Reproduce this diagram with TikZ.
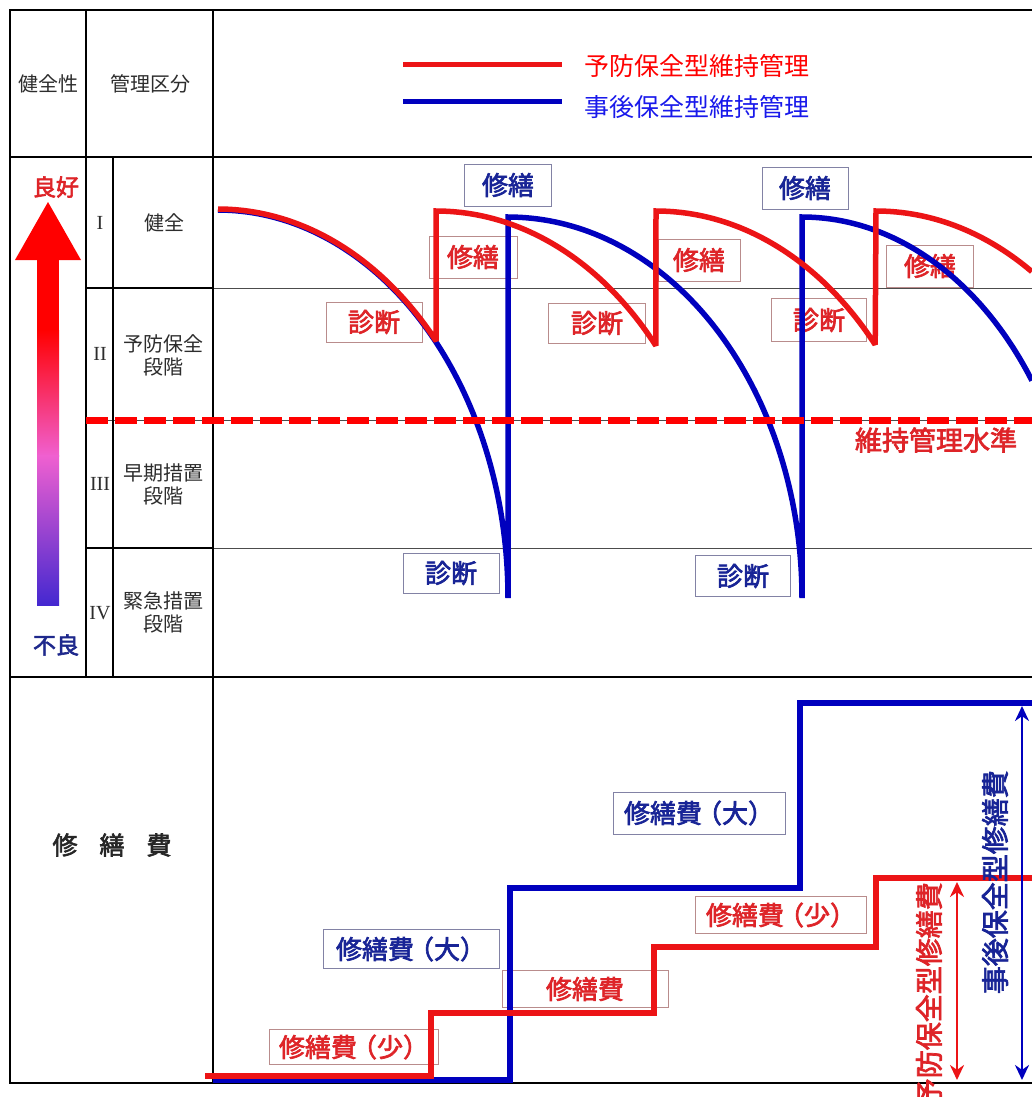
\documentclass[tikz,border=0pt]{standalone}
\usepackage{fontspec}
\setmainfont{Noto Sans CJK JP}
\newfontfamily\boldjp{Noto Sans CJK JP}[FakeBold=2.5]
\newfontfamily\romannum{Liberation Serif}
\usepackage{tikz}
\usetikzlibrary{arrows.meta}

\definecolor{curvered}{RGB}{236,20,22}
\definecolor{curveblue}{RGB}{0,0,190}
\definecolor{tagred}{RGB}{222,36,40}
\definecolor{tagblue}{RGB}{24,36,150}
\definecolor{redframe}{RGB}{185,140,140}
\definecolor{blueframe}{RGB}{130,130,165}
\definecolor{legendblue}{RGB}{25,25,235}
\definecolor{arrowpink}{RGB}{240,96,208}
\definecolor{arrowblue}{RGB}{68,40,208}
\definecolor{badblue}{RGB}{30,40,140}
\definecolor{labelgray}{RGB}{45,45,45}

\tikzset{>={Stealth[length=15pt,width=14pt]}}
\tikzset{
  frame/.style={line width=2.6pt, line cap=rect},
  rowline/.style={line width=1pt, black!70},
  redline/.style={line width=5.5pt, color=curvered, line join=miter, miter limit=2, samples=80},
  blueline/.style={line width=5.5pt, color=curveblue, line join=miter, miter limit=2, samples=80},
  levelline/.style={line width=7pt, color=red, dash pattern=on 22pt off 7pt},
  tag/.style={draw, line width=0.9pt, inner sep=0pt, minimum height=42pt,
    font=\boldjp\fontsize{26}{30}\selectfont},
  redtag/.style={tag, draw=redframe, text=tagred},
  bluetag/.style={tag, draw=blueframe, text=tagblue},
  costtag/.style={minimum height=38pt},
  headtext/.style={font=\fontsize{20}{24}\selectfont, text=labelgray},
  rowtext/.style={font=\fontsize{20}{23}\selectfont, text=labelgray, align=center},
  numeral/.style={font=\romannum\fontsize{20}{22}\selectfont, text=labelgray},
  legendtext/.style={anchor=west, font=\fontsize{25}{28}\selectfont},
  sidetext/.style={rotate=90, anchor=east, inner sep=0pt, font=\boldjp\fontsize{28}{30}\selectfont}
}

\begin{document}
\begin{tikzpicture}[x=1pt, y=-1pt]
    \fill [white] (0,0) rectangle (1032,1097);
    \useasboundingbox (0,0) rectangle (1032,1097);

    \draw [rowline] (213,288) -- (1032,288);
    \draw [rowline] (86,420) -- (1032,420);
    \draw [rowline] (213,548) -- (1032,548);

    \draw [frame] (10,10) -- (1032,10);
    \draw [frame] (10,10) -- (10,1083) -- (1032,1083);
    \draw [frame] (10,157) -- (213,157);
    \draw [frame, line width=1.6pt] (213,157) -- (1032,157);
    \draw [frame] (10,677) -- (1032,677);
    \draw [frame] (86,10) -- (86,677);
    \draw [frame] (213,10) -- (213,1083);
    \draw [frame, line width=2pt] (113,157) -- (113,677);
    \draw [frame, line width=2.2pt] (86,288) -- (213,288);
    \draw [frame, line width=2.2pt] (86,548) -- (213,548);

    \node [headtext] (hdrHealth) at (48,84) {健全性};
    \node [headtext] (hdrClass) at (150,84) {管理区分};

    \node [numeral] (rank1) at (100,223) {I};
    \node [numeral] (rank2) at (100,354) {II};
    \node [numeral] (rank3) at (100,484) {III};
    \node [numeral] (rank4) at (100,613) {IV};

    \node [rowtext] (stage1) at (164,223) {健全};
    \node [rowtext] (stage2) at (163,355) {予防保全\\段階};
    \node [rowtext] (stage3) at (163,484) {早期措置\\段階};
    \node [rowtext] (stage4) at (163,612) {緊急措置\\段階};

    \fill [red] (15,260) -- (48,202) -- (81,260) -- cycle;
    \fill [red] (37,258) rectangle (59,331);
    \shade [top color=red, bottom color=arrowpink] (37,330) rectangle (59,456);
    \shade [top color=arrowpink, bottom color=arrowblue] (37,455) rectangle (59,605);
    \node [font=\boldjp\fontsize{23}{26}\selectfont, text=tagred] (good) at (56,187) {良好};
    \node [font=\boldjp\fontsize{23}{26}\selectfont, text=badblue] (bad) at (56,645) {不良};

    \coordinate (legR0) at (403,65);
    \coordinate (legR1) at (562,65);
    \coordinate (legB0) at (403,102);
    \coordinate (legB1) at (562,102);
    \draw [redline, line width=5pt] (legR0) -- (legR1);
    \draw [blueline, line width=5pt] (legB0) -- (legB1);
    \node [legendtext, text=red] (legRtext) at (581,66) {予防保全型維持管理};
    \node [legendtext, text=legendblue] (legBtext) at (581,107) {事後保全型維持管理};

    \node [bluetag, minimum width=87pt] (fixB1) at (508,185) {修繕};
    \node [bluetag, minimum width=86pt] (fixB2) at (805,188) {修繕};
    \node [redtag, minimum width=88pt] (fixR1) at (473,257) {修繕};
    \node [redtag, minimum width=82pt] (fixR2) at (699,260) {修繕};
    \node [redtag, minimum width=87pt] (fixR3) at (930,266) {修繕};
    \node [redtag, minimum width=96pt, minimum height=40pt] (chkR1) at (374,322) {診断};
    \node [redtag, minimum width=97pt, minimum height=40pt] (chkR2) at (597,323) {診断};
    \node [redtag, minimum width=95pt, minimum height=43pt] (chkR3) at (819,320) {診断};
    \node [bluetag, minimum width=96pt, minimum height=40pt] (chkB1) at (451,573) {診断};
    \node [bluetag, minimum width=95pt, minimum height=41pt] (chkB2) at (743,576) {診断};

    \draw [blueline] plot [domain=-90:0] ({218+290*cos(\x)}, {598+388*sin(\x)})
        -- plot [domain=-90:0] ({508+294*cos(\x)}, {598+381*sin(\x)})
        -- plot [domain=-90:-34.8] ({802+280*cos(\x)}, {598+381*sin(\x)});
    \draw [redline] plot [domain=-90:-41.2] ({218+290*cos(\x)}, {596+387*sin(\x)})
        -- plot [domain=-90:-40.7] ({436+290*cos(\x)}, {598+387*sin(\x)})
        -- plot [domain=-90:-40.9] ({656+290*cos(\x)}, {598+387*sin(\x)})
        -- plot [domain=-90:-57.5] ({876+290*cos(\x)}, {598+387*sin(\x)});

    \draw [levelline] (86,420) -- (1032,420);
    \node [font=\boldjp\fontsize{27}{30}\selectfont, text=tagred] (levelText) at (936,440) {維持管理水準};

    \node [font=\boldjp\fontsize{25}{28}\selectfont, text=black!85] (costHead) at (112,845)
      {修\hspace{22pt}繕\hspace{22pt}費};

    \node [redtag, costtag, minimum width=169pt, minimum height=35pt] (costR1) at (354,1047) {修繕費\kern-6pt（少）};
    \node [bluetag, costtag, minimum width=176pt, minimum height=39pt] (costB1) at (411,949) {修繕費\kern-6pt（大）};
    \node [redtag, costtag, minimum width=166pt, minimum height=37pt] (costR2) at (585,989) {修繕費};
    \node [bluetag, costtag, minimum width=172pt, minimum height=42pt] (costB2) at (699,813) {修繕費\kern-6pt（大）};
    \node [redtag, costtag, minimum width=171pt, minimum height=37pt] (costR3) at (781,915) {修繕費\kern-6pt（少）};

    \coordinate (b0) at (213,1080);
    \coordinate (b1) at (510,1080);
    \coordinate (b2) at (510,888);
    \coordinate (b3) at (800,888);
    \coordinate (b4) at (800,703);
    \coordinate (b5) at (1032,703);
    \draw [blueline] (b0) -- (b1) -- (b2) -- (b3) -- (b4) -- (b5);

    \coordinate (r0) at (205,1076);
    \coordinate (r1) at (431,1076);
    \coordinate (r2) at (431,1013);
    \coordinate (r3) at (654,1013);
    \coordinate (r4) at (654,947);
    \coordinate (r5) at (876,947);
    \coordinate (r6) at (876,878);
    \coordinate (r7) at (1032,878);
    \draw [redline] (r0) -- (r1) -- (r2) -- (r3) -- (r4) -- (r5) -- (r6) -- (r7);

    \coordinate (preTop) at (957,882);
    \coordinate (preBot) at (957,1080);
    \coordinate (postTop) at (1022,706);
    \coordinate (postBot) at (1022,1080);
    \draw [<->, line width=2.8pt, curvered] (preTop) -- (preBot);
    \draw [<->, line width=2.8pt, curveblue] (postTop) -- (postBot);

    \node [sidetext, text=tagred] (preLabel) at (929,882) {予防保全型修繕費};
    \node [sidetext, text=tagblue] (postLabel) at (995,770) {事後保全型修繕費};
\end{tikzpicture}
\end{document}
